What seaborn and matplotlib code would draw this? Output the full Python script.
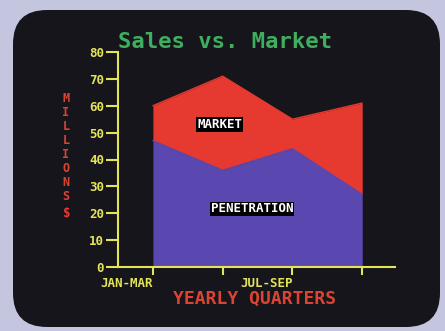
import pandas as pd
import matplotlib
matplotlib.use('Agg')
import matplotlib.pyplot as plt
import seaborn as sns
from matplotlib.patches import FancyBboxPatch

# 数据：四个季度，市场总量与渗透量（百万）
quarters = [0, 1, 2, 3]
quarter_labels = ['JAN-MAR', '', 'JUL-SEP', '']
penetration = [47, 36, 44, 27]
market_total = [60, 71, 55, 61]
y_ticks = [0, 10, 20, 30, 40, 50, 60, 70, 80]

df = pd.DataFrame({'quarter': quarters, 'penetration': penetration, 'market': market_total})

yellow = '#e4e45a'
red = '#e63a30'
blue = '#5a47b0'
green = '#3fae5e'
orange_red = '#dc4432'

sns.set_style('dark')
plt.rcParams['font.family'] = ['DejaVu Sans Mono']
plt.rcParams['font.weight'] = 'bold'

fig = plt.figure(figsize=(4.45, 3.31), dpi=100, facecolor='#c3c6de')

# 背景：圆角黑色屏幕
bg = fig.add_axes([0, 0, 1, 1])
bg.set_xlim(0, 445)
bg.set_ylim(0, 331)
bg.axis('off')
bg.add_patch(FancyBboxPatch((13, 4), 427, 317, boxstyle='round,pad=0,rounding_size=34',
                            facecolor='#15151b', edgecolor='none'))

ax = fig.add_axes([118 / 445, 64 / 331, 277 / 445, 215 / 331])
ax.set_facecolor('none')
ax.grid(False)

ax.fill_between(df['quarter'], 0, df['penetration'], color=blue, lw=0)
ax.fill_between(df['quarter'], df['penetration'], df['market'], color=red, lw=0)
sns.lineplot(data=df, x='quarter', y='market', color=red, lw=1, ax=ax)
sns.lineplot(data=df, x='quarter', y='penetration', color=blue, lw=1, ax=ax)

ax.set_xlim(-0.5, 3.47)
ax.set_ylim(0, 80)
for s in ['top', 'right']:
    ax.spines[s].set_visible(False)
for s in ['left', 'bottom']:
    ax.spines[s].set_visible(True)
    ax.spines[s].set_color(yellow)
    ax.spines[s].set_linewidth(1.5)

ax.set_yticks(y_ticks)
ax.set_yticklabels([str(v) for v in y_ticks])
ax.set_xticks(quarters)
ax.set_xticklabels(quarter_labels, ha='right')
ax.tick_params(axis='y', direction='out', length=9, width=1.5, color=yellow,
               labelcolor=yellow, labelsize=9, pad=1, left=True)
ax.tick_params(axis='x', direction='out', length=6, width=1.5, color=yellow,
               labelcolor=yellow, labelsize=9, pad=1, bottom=True)
for lbl in ax.get_xticklabels():
    lbl.set_x(lbl.get_position()[0])
ax.set_xlabel('')
ax.set_ylabel('')

ax.text(0.96, 53, 'MARKET', color='white', fontsize=9, fontweight='bold',
        ha='center', va='center', bbox=dict(facecolor='black', edgecolor='none', pad=0.6))
ax.text(1.42, 21.6, 'PENETRATION', color='white', fontsize=9, fontweight='bold',
        ha='center', va='center', bbox=dict(facecolor='black', edgecolor='none', pad=0.6))

fig.text(225 / 445, 289 / 331, 'Sales vs. Market', color=green, fontsize=16,
         ha='center', va='center')
fig.text(255 / 445, 32 / 331, 'YEARLY QUARTERS', color=orange_red, fontsize=13,
         ha='center', va='center')
fig.text(66 / 445, 184 / 331, '\n'.join('MILLIONS'), color=orange_red, fontsize=8.5,
         ha='center', va='center', linespacing=1.1)
fig.text(67 / 445, 117 / 331, r'\$', color=red, fontsize=9, ha='center', va='center')

fig.savefig('out.png', dpi=100, facecolor=fig.get_facecolor())
